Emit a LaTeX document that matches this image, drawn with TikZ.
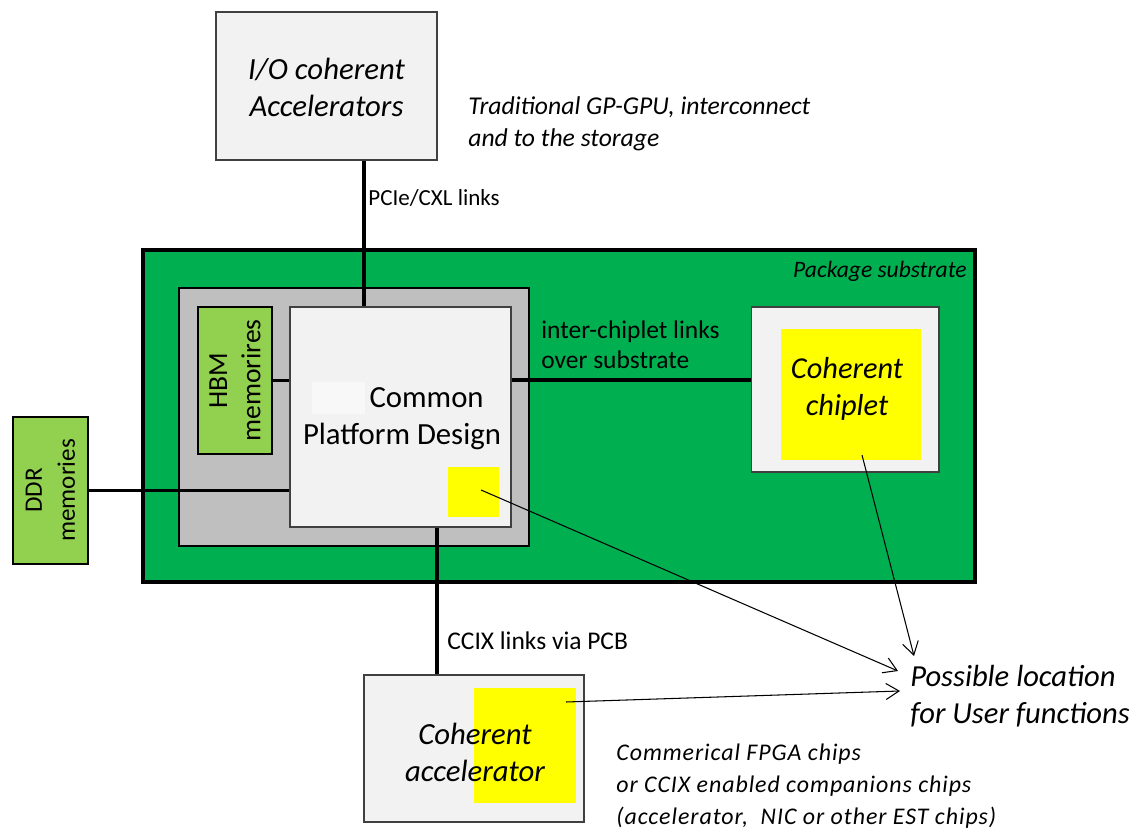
\documentclass[tikz,border=0pt]{standalone}
\usepackage{fontspec}
\setmainfont{Carlito}
\usetikzlibrary{arrows.meta}
\definecolor{pkggreen}{HTML}{00B050}
\definecolor{memgreen}{HTML}{92D050}
\definecolor{chipgray}{HTML}{BFBFBF}
\definecolor{lightbox}{HTML}{F2F2F2}
\definecolor{hilite}{HTML}{FFFF00}
\tikzset{
  lightnode/.style={draw=black!75, line width=0.6pt, fill=lightbox, inner sep=0pt},
  memnode/.style={draw=black, line width=1pt, fill=memgreen, inner sep=0pt},
  yellownode/.style={fill=hilite, inner sep=0pt},
  link/.style={line width=1.8pt, black},
  pointer/.style={line width=0.6pt, -{Straight Barb[length=2.6mm,width=3.2mm]}},
  txt/.style={inner sep=0pt, align=left},
}
\begin{document}
\begin{tikzpicture}[x=0.02cm,y=-0.02cm]
\useasboundingbox (0,0) rectangle (1139,830);
% package substrate
\node[draw=black, line width=2.2pt, fill=pkggreen, minimum width=16.64cm, minimum height=6.64cm, inner sep=0pt] (pkg) at (559,416) {};
\node[txt, anchor=east, font=\fontsize{13.4pt}{16pt}\selectfont\itshape] (pkglabel) at (967,271) {Package substrate};
% gray carrier
\node[draw=black, line width=1pt, fill=chipgray, minimum width=7.0cm, minimum height=5.16cm, inner sep=0pt] (carrier) at (354,417) {};
% HBM
\node[memnode, minimum width=1.48cm, minimum height=2.94cm] (hbm) at (235,380.5) {};
\node[txt, align=center, rotate=90, font=\fontsize{15.7pt}{18.8pt}\selectfont] (hbmtext) at (235,380.5) {HBM\\memorires};
% common platform design
\node[lightnode, minimum width=4.42cm, minimum height=4.4cm] (cpd) at (400.5,417) {};
\node[fill=white!50!lightbox, minimum width=1.06cm, minimum height=0.64cm, inner sep=0pt] (faint) at (338.5,398) {};
\node[txt, align=center, font=\fontsize{17.5pt}{21pt}\selectfont] (cpdtext) at (402,419) {\hspace*{28pt}Common\\Platform Design};
\node[yellownode, minimum width=1.02cm, minimum height=1.0cm] (ysmall) at (473.5,492) {};
% DDR
\node[memnode, minimum width=1.5cm, minimum height=2.94cm] (ddr) at (50.5,490.5) {};
\node[txt, align=center, rotate=90, font=\fontsize{14.3pt}{18.8pt}\selectfont] (ddrtext) at (50.5,490.5) {DDR\\memories};
% coherent chiplet
\node[lightnode, minimum width=3.76cm, minimum height=3.3cm] (chip) at (845,389.5) {};
\node[yellownode, minimum width=2.8cm, minimum height=2.62cm] (ychip) at (851,394.5) {};
\node[txt, align=center, font=\fontsize{17.3pt}{21pt}\selectfont\itshape] (chiptext) at (847,389) {Coherent\\chiplet};
% IO accelerators
\node[lightnode, minimum width=4.42cm, minimum height=2.96cm] (io) at (326.5,86) {};
\node[txt, align=center, font=\fontsize{17.5pt}{21pt}\selectfont\itshape] (iotext) at (326.5,87) {I/O coherent\\Accelerators};
\node[txt, anchor=west, font=\fontsize{14.6pt}{18.2pt}\selectfont\itshape] (trad) at (468,124) {Traditional GP-GPU, interconnect\\and to the storage};
% coherent accelerator
\node[lightnode, minimum width=4.4cm, minimum height=2.94cm] (acc) at (474,748.5) {};
\node[yellownode, minimum width=2.04cm, minimum height=2.3cm] (yacc) at (525,745.5) {};
\node[txt, align=center, font=\fontsize{17.5pt}{21pt}\selectfont\itshape] (acctext) at (475,752) {Coherent\\accelerator};
\node[txt, anchor=north west, font=\fontsize{13.6pt}{18.2pt}\selectfont\itshape\addfontfeatures{LetterSpace=4}] (comm) at (616,744) {Commerical FPGA chips\\or CCIX enabled companions chips\\(accelerator,~ NIC or other EST chips)};
% possible location
\node[txt, anchor=west, font=\fontsize{17.4pt}{21pt}\selectfont\itshape] (possible) at (910,696) {Possible location\\for User functions};
% links
\coordinate (pciex) at (364,0);
\coordinate (icy) at (0,380);
\coordinate (ccixx) at (437,0);
\draw[link] (io.south -| pciex) -- (cpd.north -| pciex);
\draw[link] (hbm.east) -- (hbm.east -| cpd.west);
\draw[link] (ddr.east) -- (ddr.east -| cpd.west);
\draw[link] (cpd.east |- icy) -- (chip.west |- icy);
\draw[link] (cpd.south -| ccixx) -- (acc.north -| ccixx);
\node[txt, anchor=west, font=\fontsize{13.1pt}{16pt}\selectfont] (pcielabel) at (368,198) {PCIe/CXL links};
\node[txt, anchor=west, font=\fontsize{14.5pt}{17pt}\selectfont] (iclabel) at (541,345) {inter-chiplet links\\over substrate};
\node[txt, anchor=west, font=\fontsize{14.5pt}{17pt}\selectfont] (ccixlabel) at (447,641) {CCIX links via PCB};
% pointers
\coordinate (p1s) at (481,490);
\coordinate (p1e) at (898,671);
\coordinate (p2s) at (862,455);
\coordinate (p2e) at (914,656);
\coordinate (p3s) at (566,702);
\coordinate (p3e) at (900,691);
\draw[pointer] (p1s) -- (p1e);
\draw[pointer] (p2s) -- (p2e);
\draw[pointer] (p3s) -- (p3e);
\end{tikzpicture}
\end{document}
